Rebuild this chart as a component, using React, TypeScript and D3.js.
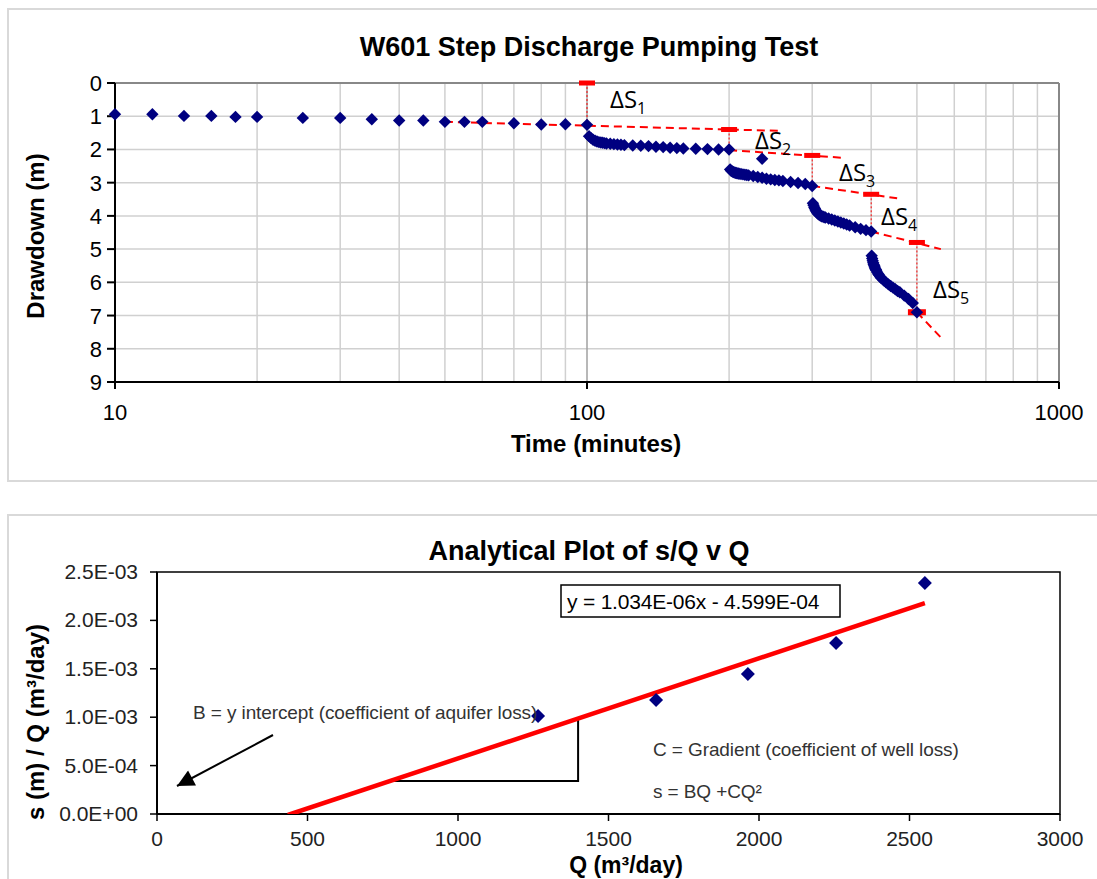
import React from 'react';
import * as d3 from 'd3';

// ---------- Top chart data (time in minutes, drawdown in m) ----------
const step1Time = [10, 12, 14, 16, 18, 20, 25, 30, 35, 40, 45, 50, 55, 60, 70, 80, 90, 100];
const step1Draw = [0.94, 0.94, 0.99, 0.99, 1.02, 1.02, 1.05, 1.05, 1.09, 1.13, 1.13, 1.17, 1.17, 1.17, 1.21, 1.25, 1.24, 1.26];

const step2Time = [101, 102, 103, 104, 105, 106, 107, 108, 109, 110, 112, 114, 116, 118, 120, 125, 130, 135, 140, 145, 150, 155, 160, 170, 180, 190, 200];
const step2Draw = [1.6, 1.66, 1.71, 1.74, 1.76, 1.78, 1.79, 1.8, 1.81, 1.82, 1.83, 1.84, 1.85, 1.86, 1.87, 1.88, 1.89, 1.9, 1.92, 1.93, 1.95, 1.96, 1.97, 1.98, 1.99, 2.0, 2.0];

const step3Time = [201, 202, 203, 204, 205, 206, 207, 208, 209, 210, 212, 214, 216, 218, 220, 225, 230, 235, 240, 245, 250, 255, 260, 270, 280, 290, 300];
const step3Draw = [2.6, 2.64, 2.66, 2.68, 2.69, 2.7, 2.71, 2.72, 2.72, 2.73, 2.74, 2.75, 2.76, 2.77, 2.78, 2.8, 2.83, 2.85, 2.88, 2.9, 2.92, 2.93, 2.95, 2.98, 3.01, 3.04, 3.1];

const step4Time = [301, 302, 303, 304, 305, 306, 307, 308, 309, 310, 312, 314, 316, 318, 320, 325, 330, 335, 340, 345, 350, 355, 360, 370, 380, 390, 400];
const step4Draw = [3.62, 3.68, 3.74, 3.78, 3.82, 3.86, 3.89, 3.92, 3.94, 3.96, 3.99, 4.01, 4.02, 4.04, 4.05, 4.08, 4.11, 4.14, 4.17, 4.2, 4.23, 4.26, 4.29, 4.34, 4.39, 4.43, 4.47];

const step5Time = [401, 402, 403, 404, 405, 406, 407, 408, 409, 410, 412, 414, 416, 418, 420, 425, 430, 435, 440, 445, 450, 455, 460, 470, 480, 490, 500];
const step5Draw = [5.2, 5.28, 5.35, 5.41, 5.46, 5.5, 5.54, 5.58, 5.61, 5.64, 5.7, 5.75, 5.79, 5.83, 5.87, 5.94, 6.0, 6.06, 6.11, 6.16, 6.21, 6.26, 6.3, 6.4, 6.5, 6.62, 6.9];

const strayTime = [235];
const strayDraw = [2.28];

// extrapolated trend of each step: [t0, s0, t1, s1]
const extrapolations = [
  [50, 1.17, 255, 1.44],
  [200, 2.02, 348, 2.25],
  [300, 3.1, 454, 3.47],
  [400, 4.47, 562, 5.0],
  [500, 6.9, 562, 7.66],
];
// delta S construction: time, upper drawdown, lower drawdown
const deltaTime = [100, 200, 300, 400, 500];
const deltaTop = [0, 1.4, 2.18, 3.35, 4.8];
const deltaBottom = [1.26, 2.0, 3.1, 4.47, 6.9];
const deltaLabels = ['1', '2', '3', '4', '5'];

const yTicksTop = [0, 1, 2, 3, 4, 5, 6, 7, 8, 9];
const xTicksTop = [10, 100, 1000];

// ---------- Bottom chart data ----------
const qValues = [1266, 1658, 1963, 2256, 2551];
const sqValues = [1.012e-3, 1.178e-3, 1.446e-3, 1.767e-3, 2.386e-3];
const trendSlope = 1.034e-6;
const trendIntercept = -4.599e-4;
const yTicksBottom = [0, 5e-4, 1e-3, 1.5e-3, 2e-3, 2.5e-3];
const yTickLabelsBottom = ['0.0E+00', '5.0E-04', '1.0E-03', '1.5E-03', '2.0E-03', '2.5E-03'];
const xTicksBottom = [0, 500, 1000, 1500, 2000, 2500, 3000];
const triangleQ = [774, 1399];

const W = 1097;
const H = 879;
const FONT = "'Liberation Sans', Arial, sans-serif";
const FONT2 = "'Open Sans', 'Noto Sans', sans-serif";
const NAVY = '#000080';
const RED = '#ff0000';

const diamond = (s: number) => `M0,${-s}L${s},0L0,${s}L${-s},0Z`;

// label anchor positions (px) for the ΔS annotations
const deltaLabelPos = [[610, 108], [755, 149], [839, 181], [881, 225], [933, 298]];

export default function App() {
  // top scales
  const xT = d3.scaleLog().domain([10, 1000]).range([115, 1059]);
  const yT = d3.scaleLinear().domain([0, 9]).range([83, 382]);
  const minor: number[] = [];
  [10, 100].forEach((d) => {
    for (let k = 2; k <= 9; k++) minor.push(d * k);
  });

  const topPoints: [number, number][] = [];
  const addPts = (ts: number[], ss: number[]) => ts.forEach((t, i) => topPoints.push([t, ss[i]]));
  addPts(step1Time, step1Draw);
  addPts(step2Time, step2Draw);
  addPts(strayTime, strayDraw);
  addPts(step3Time, step3Draw);
  addPts(step4Time, step4Draw);
  addPts(step5Time, step5Draw);

  // bottom scales
  const xB = d3.scaleLinear().domain([0, 3000]).range([157, 1060]);
  const yB = d3.scaleLinear().domain([0, 2.5e-3]).range([814, 572]);
  const trendX0 = -trendIntercept / trendSlope;
  const trendX1 = qValues[qValues.length - 1];
  const trendLine = d3.line<number>()
    .x((q) => xB(q))
    .y((q) => yB(trendSlope * q + trendIntercept));

  const triA = triangleQ[0];
  const triB = triangleQ[1];

  return (
    <svg width={W} height={H} style={{ position: 'absolute', left: 0, top: 0, background: '#fff' }}>
      <defs>
        <marker id="ah" viewBox="0 0 10 10" refX="10" refY="5" markerWidth="19" markerHeight="17" markerUnits="userSpaceOnUse" orient="auto">
          <path d="M0,0L10,5L0,10Z" fill="#000" />
        </marker>
        <clipPath id="plotClip">
          <rect x={157} y={572} width={903} height={242} />
        </clipPath>
      </defs>
      <rect x={0} y={0} width={W} height={H} fill="#fff" />

      {/* ================= TOP CHART ================= */}
      <rect x={8} y={9} width={W + 10} height={472} fill="#fff" stroke="#d9d9d9" strokeWidth={2} />
      <text x={589} y={56} textAnchor="middle" fontFamily={FONT} fontWeight="bold" fontSize={27}>W601 Step Discharge Pumping Test</text>

      {/* grid */}
      {yTicksTop.filter((d) => d > 0 && d < 9).map((d) => (
        <line key={'hg' + d} x1={xT(10)} x2={xT(1000)} y1={yT(d)} y2={yT(d)} stroke="#d0d0d0" strokeWidth={1.5} />
      ))}
      {minor.map((d) => (
        <line key={'vg' + d} x1={xT(d)} x2={xT(d)} y1={yT(0)} y2={yT(9)} stroke="#d0d0d0" strokeWidth={1.5} />
      ))}
      <line x1={xT(100)} x2={xT(100)} y1={yT(0)} y2={yT(9)} stroke="#a0a0a0" strokeWidth={1.5} />
      {/* border */}
      <line x1={xT(10)} x2={xT(1000)} y1={yT(0)} y2={yT(0)} stroke="#888" strokeWidth={2} />
      <line x1={xT(1000)} x2={xT(1000)} y1={yT(0)} y2={yT(9)} stroke="#888" strokeWidth={2} />
      <line x1={xT(10)} x2={xT(10)} y1={yT(0)} y2={yT(9)} stroke="#000" strokeWidth={2} />
      <line x1={xT(10)} x2={xT(1000)} y1={yT(9)} y2={yT(9)} stroke="#000" strokeWidth={2} />
      {yTicksTop.map((d) => (
        <g key={'yt' + d}>
          <line x1={xT(10) - 8} x2={xT(10)} y1={yT(d)} y2={yT(d)} stroke="#000" strokeWidth={2} />
          <text x={xT(10) - 13} y={yT(d) + 8} textAnchor="end" fontFamily={FONT} fontSize={22}>{d}</text>
        </g>
      ))}
      {xTicksTop.map((d) => (
        <g key={'xt' + d}>
          <line x1={xT(d)} x2={xT(d)} y1={yT(9)} y2={yT(9) + 7} stroke="#000" strokeWidth={2} />
          <text x={xT(d)} y={yT(9) + 38} textAnchor="middle" fontFamily={FONT} fontSize={22}>{d}</text>
        </g>
      ))}
      <text x={596} y={452} textAnchor="middle" fontFamily={FONT} fontWeight="bold" fontSize={24}>Time (minutes)</text>
      <text transform={`translate(44,236) rotate(-90)`} textAnchor="middle" fontFamily={FONT} fontWeight="bold" fontSize={24}>Drawdown (m)</text>

      {/* extrapolation lines */}
      {extrapolations.map((e, i) => (
        <line key={'ex' + i} x1={xT(e[0])} y1={yT(e[1])} x2={xT(e[2])} y2={yT(e[3])} stroke={RED} strokeWidth={2} strokeDasharray="8,5" />
      ))}
      {deltaTime.map((t, i) => (
        <line key={'dv' + i} x1={xT(t)} x2={xT(t)} y1={yT(deltaTop[i])} y2={yT(deltaBottom[i])} stroke={RED} strokeWidth={1} strokeDasharray="2,2" />
      ))}

      {/* red bar markers */}
      {deltaTime.map((t, i) => (
        <rect key={'rb' + i} x={xT(t) - 8} y={yT(deltaTop[i]) - 2.5} width={16} height={5} fill={RED} />
      ))}
      <rect x={xT(deltaTime[4]) - 9} y={yT(deltaBottom[4]) - 3} width={18} height={6} fill={RED} />

      {/* data */}
      {topPoints.map((p, i) => (
        <path key={'p' + i} d={diamond(6.2)} transform={`translate(${xT(p[0])},${yT(p[1])})`} fill={NAVY} />
      ))}

      {/* delta labels */}
      {deltaTime.map((t, i) => (
        <text key={'dl' + i} x={deltaLabelPos[i][0]} y={deltaLabelPos[i][1]} fontFamily={FONT2} fontSize={24} fill="#000">
          ΔS<tspan fontSize={16} dy={6}>{deltaLabels[i]}</tspan>
        </text>
      ))}

      {/* ================= BOTTOM CHART ================= */}
      <rect x={8} y={515} width={W + 10} height={400} fill="#fff" stroke="#d9d9d9" strokeWidth={2} />
      <text x={589} y={560} textAnchor="middle" fontFamily={FONT} fontWeight="bold" fontSize={27}>Analytical Plot of s/Q v Q</text>
      <rect x={xB(0)} y={yB(2.5e-3)} width={xB(3000) - xB(0)} height={yB(0) - yB(2.5e-3)} fill="none" stroke="#000" strokeWidth={1.5} />
      <line x1={xB(0)} x2={xB(3000)} y1={yB(0)} y2={yB(0)} stroke="#000" strokeWidth={2} />
      <line x1={xB(0)} x2={xB(0)} y1={yB(0)} y2={yB(2.5e-3)} stroke="#000" strokeWidth={2} />
      {yTicksBottom.map((d, i) => (
        <g key={'ybt' + i}>
          <line x1={xB(0) - 7} x2={xB(0)} y1={yB(d)} y2={yB(d)} stroke="#000" strokeWidth={1.5} />
          <text x={xB(0) - 19} y={yB(d) + 7} textAnchor="end" fontFamily={FONT} fontSize={21} fill="#222">{yTickLabelsBottom[i]}</text>
        </g>
      ))}
      {xTicksBottom.map((d) => (
        <g key={'xbt' + d}>
          <line x1={xB(d)} x2={xB(d)} y1={yB(0)} y2={yB(0) + 7} stroke="#000" strokeWidth={1.5} />
          <text x={xB(d)} y={846} textAnchor="middle" fontFamily={FONT} fontSize={21} fill="#222">{d}</text>
        </g>
      ))}
      <text x={626} y={873} textAnchor="middle" fontFamily={FONT} fontWeight="bold" fontSize={23}>Q (m³/day)</text>
      <text transform={`translate(44,722) rotate(-90)`} textAnchor="middle" fontFamily={FONT} fontWeight="bold" fontSize={24}>s (m) / Q (m³/day)</text>

      {/* slope triangle */}
      <path
        d={`M${xB(triA)},${yB(trendSlope * triA + trendIntercept)}L${xB(triB)},${yB(trendSlope * triA + trendIntercept)}L${xB(triB)},${yB(trendSlope * triB + trendIntercept)}`}
        fill="none" stroke="#000" strokeWidth={2}
      />
      {/* trend line */}
      <path d={trendLine([trendX0 - 10, trendX1]) || ''} stroke={RED} strokeWidth={4.5} fill="none" clipPath="url(#plotClip)" />

      {qValues.map((q, i) => (
        <path key={'bq' + i} d={diamond(7)} transform={`translate(${xB(q)},${yB(sqValues[i])})`} fill={NAVY} />
      ))}

      {/* equation box */}
      <rect x={561} y={585} width={279} height={32} fill="#fff" stroke="#000" strokeWidth={1.5} />
      <text x={567} y={609} fontFamily={FONT} fontSize={21} fill="#000" letterSpacing={-0.2}>y = 1.034E-06x  - 4.599E-04</text>

      {/* annotations */}
      <text x={193} y={719} fontFamily={FONT} fontSize={19} fill="#333" letterSpacing={-0.1}>B = y intercept (coefficient of aquifer loss)</text>
      <text x={653} y={756} fontFamily={FONT} fontSize={19} fill="#333" letterSpacing={-0.1}>C = Gradient (coefficient of well loss)</text>
      <text x={653} y={798} fontFamily={FONT} fontSize={19} fill="#333" letterSpacing={-0.1}>s = BQ +CQ²</text>
      <line x1={273} y1={735} x2={177} y2={786} stroke="#000" strokeWidth={2} markerEnd="url(#ah)" />
    </svg>
  );
}
